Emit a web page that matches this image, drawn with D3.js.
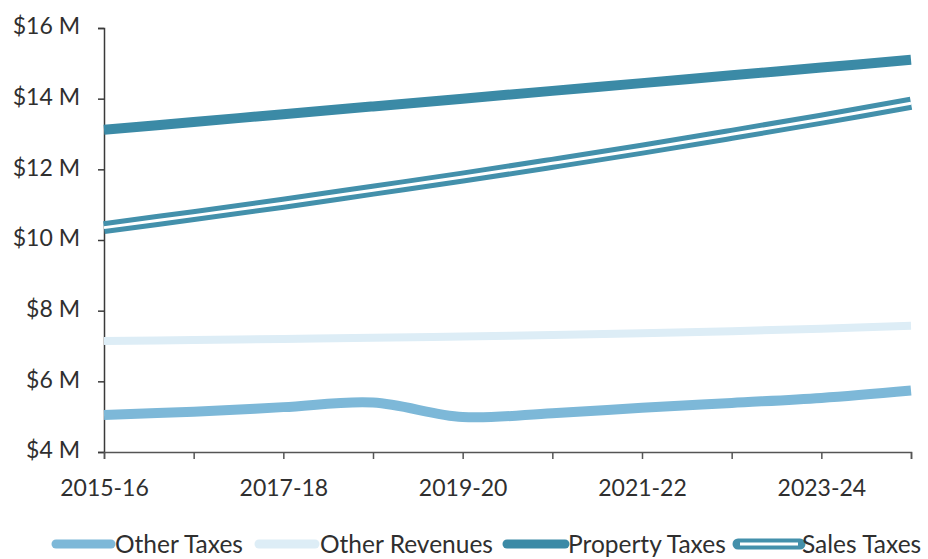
<!DOCTYPE html>
<html>
<head>
<meta charset="utf-8">
<script src="https://cdn.jsdelivr.net/npm/d3@7"></script>
<style>
  html, body { margin: 0; padding: 0; background: #ffffff; }
  svg { display: block; }
  text { font-family: Lato, "Open Sans", sans-serif; fill: #2f2f2f; }
</style>
</head>
<body>
<svg id="chart" width="928" height="559"></svg>
<script>
// ---- data ----
const years = ["2015-16","2016-17","2017-18","2018-19","2019-20","2020-21","2021-22","2022-23","2023-24","2024-25"];
const shownYearLabels = ["2015-16","2017-18","2019-20","2021-22","2023-24"];
const otherTaxes    = [5.05, 5.14, 5.27, 5.40, 4.99, 5.10, 5.25, 5.39, 5.53, 5.74];
const otherRevenues = [7.14, 7.17, 7.20, 7.23, 7.27, 7.31, 7.36, 7.42, 7.49, 7.57];
const propertyTaxes = [13.12, 13.34, 13.56, 13.78, 14.00, 14.22, 14.44, 14.66, 14.88, 15.10];
const salesTaxes    = [10.35, 10.69, 11.04, 11.41, 11.78, 12.17, 12.57, 12.99, 13.42, 13.87];
const yTicks = [4, 6, 8, 10, 12, 14, 16];
const seriesNames = ["Other Taxes", "Other Revenues", "Property Taxes", "Sales Taxes"];

// ---- layout ----
const svg = d3.select("#chart");
const x = d3.scalePoint().domain(years).range([104, 911]);
const y = d3.scaleLinear().domain([4, 16]).range([452, 28]);

const series = [
  { name: seriesNames[0], values: otherTaxes,    color: "#7db8d8", width: 10, double: false },
  { name: seriesNames[1], values: otherRevenues, color: "#ddedf6", width: 8,  double: false },
  { name: seriesNames[2], values: propertyTaxes, color: "#3b8aa6", width: 10, double: false },
  { name: seriesNames[3], values: salesTaxes,    color: "#4390ab", width: 13, double: true }
];

// ---- axes ----
const yAxis = d3.axisLeft(y).tickValues(yTicks).tickSize(6).tickPadding(18)
  .tickFormat(d => "$" + d + " M");
const gy = svg.append("g").attr("transform", "translate(104,0)").call(yAxis);
gy.select(".domain").attr("stroke", "#3a3a3a").attr("stroke-width", 1.5);
gy.selectAll(".tick line").attr("stroke", "#3a3a3a").attr("stroke-width", 1.5);
gy.selectAll(".tick text").attr("font-size", 23).attr("font-family", "Lato, sans-serif")
  .attr("fill", "#2f2f2f").attr("dy", "0.26em");

const xAxis = d3.axisBottom(x).tickSize(7).tickPadding(21)
  .tickFormat(d => shownYearLabels.includes(d) ? d : "");
const gx = svg.append("g").attr("transform", "translate(0,452)").call(xAxis);
gx.select(".domain").attr("stroke", "#555").attr("stroke-width", 1.5);
gx.selectAll(".tick line").attr("stroke", "#555").attr("stroke-width", 1.5);
gx.selectAll(".tick text").attr("font-size", 23).attr("font-family", "Lato, sans-serif").attr("fill", "#2f2f2f");

// ---- lines ----
const line = d3.line()
  .x((d, i) => x(years[i]))
  .y(d => y(d))
  .curve(d3.curveCatmullRom.alpha(0.5));

const gl = svg.append("g");
series.forEach(s => {
  gl.append("path")
    .attr("d", line(s.values))
    .attr("fill", "none")
    .attr("stroke", s.color)
    .attr("stroke-width", s.width)
    .attr("stroke-linejoin", "round")
    .attr("stroke-linecap", "butt");
  if (s.double) {
    gl.append("path")
      .attr("d", line(s.values))
      .attr("fill", "none")
      .attr("stroke", "#ffffff")
      .attr("stroke-width", 3)
      .attr("stroke-linecap", "butt");
  }
});

// ---- legend ----
const legendItems = [
  { s: series[0], x0: 56,  x1: 111, tx: 115 },
  { s: series[1], x0: 259, x1: 315, tx: 320 },
  { s: series[2], x0: 507, x1: 565, tx: 568 },
  { s: series[3], x0: 738, x1: 800, tx: 802 }
];
const lg = svg.append("g");
const ly = 544;
legendItems.forEach(it => {
  lg.append("line")
    .attr("x1", it.x0).attr("x2", it.x1).attr("y1", ly).attr("y2", ly)
    .attr("stroke", it.s.color).attr("stroke-width", it.s.double ? 11 : 9)
    .attr("stroke-linecap", "round");
  if (it.s.double) {
    lg.append("line")
      .attr("x1", it.x0 + 2).attr("x2", it.x1 - 2).attr("y1", ly).attr("y2", ly)
      .attr("stroke", "#ffffff").attr("stroke-width", 3);
  }
  lg.append("text")
    .attr("x", it.tx).attr("y", ly)
    .attr("dy", "0.36em")
    .attr("font-size", 24.5)
    .text(it.s.name);
});
</script>
</body>
</html>
